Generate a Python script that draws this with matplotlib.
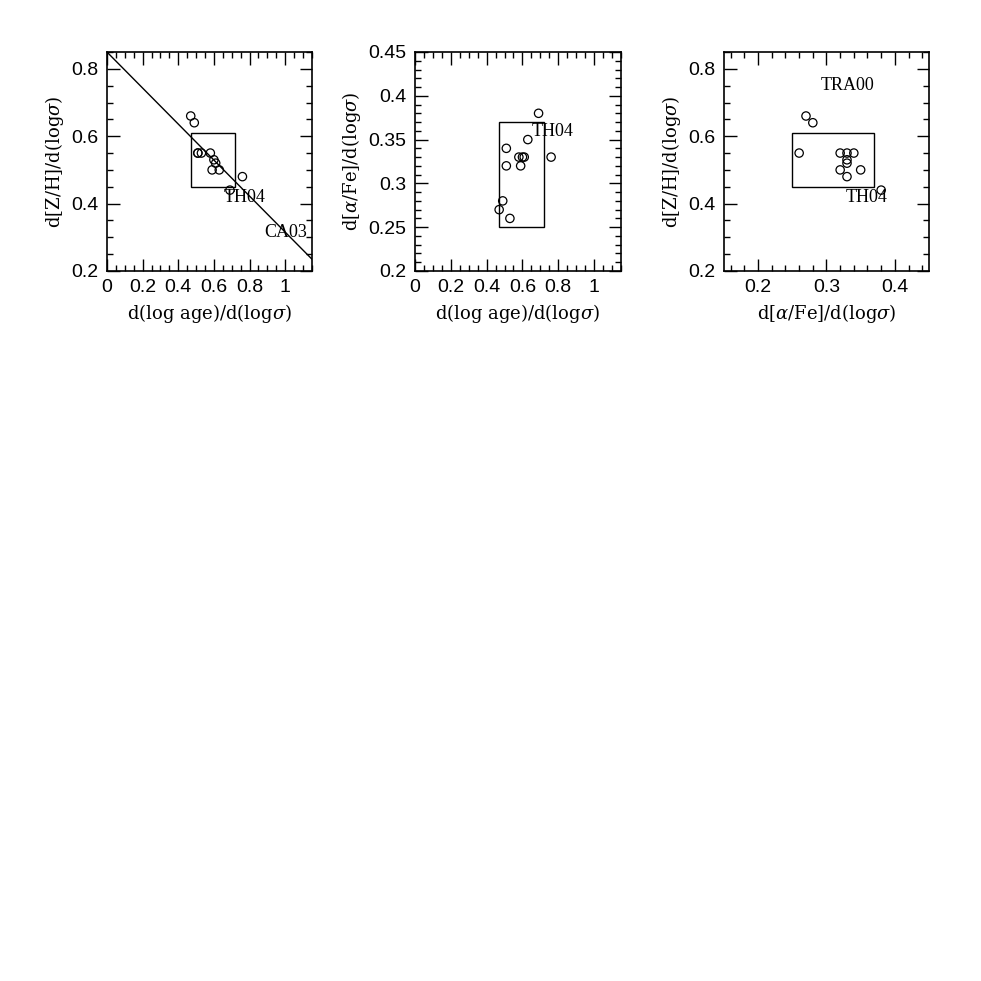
import matplotlib
matplotlib.use("Agg")
import matplotlib.pyplot as plt
from matplotlib.patches import Rectangle
from matplotlib.ticker import MultipleLocator

# per-galaxy gradients
d_age = [0.47, 0.49, 0.53, 0.51, 0.51, 0.58, 0.60, 0.61, 0.59, 0.63, 0.76, 0.69]
d_afe = [0.27, 0.28, 0.26, 0.34, 0.32, 0.33, 0.33, 0.33, 0.32, 0.35, 0.33, 0.38]
d_zh = [0.66, 0.64, 0.55, 0.55, 0.55, 0.55, 0.53, 0.52, 0.50, 0.50, 0.48, 0.44]

# TH04 ranges
th04_age = [0.47, 0.72]
th04_afe = [0.25, 0.37]
th04_zh = [0.45, 0.61]

# CA03 relation
ca03_x = [0.0, 1.15]
ca03_y = [0.85, 0.235]

plt.rcParams['font.family'] = ['Liberation Sans', 'DejaVu Sans']
plt.rcParams['mathtext.fontset'] = 'dejavuserif'
serif = ['Liberation Serif', 'DejaVu Serif']
label_font = 'DejaVu Serif'

fig = plt.figure(figsize=(9.81, 9.81), dpi=100)
ax1 = fig.add_axes([0.109, 0.7238, 0.209, 0.2232])
ax2 = fig.add_axes([0.423, 0.7238, 0.21, 0.2232])
ax3 = fig.add_axes([0.738, 0.7238, 0.209, 0.2232])


def fmt(v, pos):
    return ('%.2f' % v).rstrip('0').rstrip('.')


def style(ax, xmaj, xmin, ymaj, ymin):
    ax.xaxis.set_major_locator(MultipleLocator(xmaj))
    ax.xaxis.set_minor_locator(MultipleLocator(xmin))
    ax.yaxis.set_major_locator(MultipleLocator(ymaj))
    ax.yaxis.set_minor_locator(MultipleLocator(ymin))
    ax.xaxis.set_major_formatter(plt.FuncFormatter(fmt))
    ax.yaxis.set_major_formatter(plt.FuncFormatter(fmt))
    ax.tick_params(which='both', direction='in', top=True, right=True, width=1.0)
    ax.tick_params(which='major', length=9, labelsize=14, pad=6)
    ax.tick_params(which='minor', length=4.5)
    for s in ax.spines.values():
        s.set_linewidth(1.2)


def box(ax, xr, yr):
    ax.add_patch(Rectangle((xr[0], yr[0]), xr[1] - xr[0], yr[1] - yr[0],
                           fill=False, ec='black', lw=1.0))


def pts(ax, x, y):
    ax.scatter(x, y, s=36, facecolors='none', edgecolors='black', linewidths=0.9, zorder=3)


# panel 1
ax1.plot(ca03_x, ca03_y, color='black', lw=1.0)
box(ax1, th04_age, th04_zh)
pts(ax1, d_age, d_zh)
ax1.text(0.655, 0.417, 'TH04', family=serif, fontsize=13, va='center')
ax1.text(0.885, 0.313, 'CA03', family=serif, fontsize=13, va='center')
ax1.set_xlim(0, 1.15)
ax1.set_ylim(0.2, 0.85)
ax1.set_xlabel(r'd(log age)/d(log$\sigma$)', family=label_font, fontsize=13)
ax1.set_ylabel(r'd[Z/H]/d(log$\sigma$)', family=label_font, fontsize=13)
style(ax1, 0.2, 0.05, 0.2, 0.05)

# panel 2
box(ax2, th04_age, th04_afe)
pts(ax2, d_age, d_afe)
ax2.text(0.653, 0.359, 'TH04', family=serif, fontsize=13, va='center')
ax2.set_xlim(0, 1.15)
ax2.set_ylim(0.2, 0.45)
ax2.set_xlabel(r'd(log age)/d(log$\sigma$)', family=label_font, fontsize=13)
ax2.set_ylabel(r'd[$\alpha$/Fe]/d(log$\sigma$)', family=label_font, fontsize=13)
style(ax2, 0.2, 0.05, 0.05, 0.01)

# panel 3
box(ax3, th04_afe, th04_zh)
pts(ax3, d_afe, d_zh)
ax3.text(0.292, 0.752, 'TRA00', family=serif, fontsize=13, va='center')
ax3.text(0.328, 0.417, 'TH04', family=serif, fontsize=13, va='center')
ax3.set_xlim(0.15, 0.45)
ax3.set_ylim(0.2, 0.85)
ax3.set_xlabel(r'd[$\alpha$/Fe]/d(log$\sigma$)', family=label_font, fontsize=13)
ax3.set_ylabel(r'd[Z/H]/d(log$\sigma$)', family=label_font, fontsize=13)
style(ax3, 0.1, 0.02, 0.2, 0.05)

fig.savefig('out.png', dpi=100)
